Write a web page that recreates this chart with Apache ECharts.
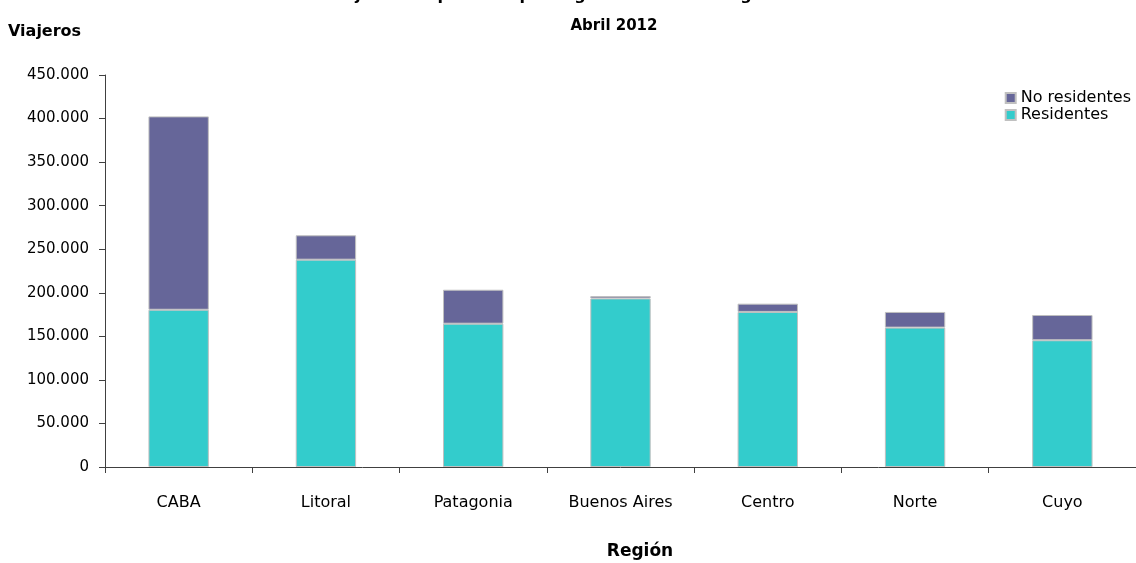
<!DOCTYPE html>
<html>
<head>
<meta charset="utf-8">
<script src="https://cdn.jsdelivr.net/npm/echarts@6/dist/echarts.min.js"></script>
<style>html,body{margin:0;padding:0;background:#fff}#c{width:1136px;height:563px}</style>
</head>
<body>
<div id="c"></div>
<script>
const categories = ['CABA', 'Litoral', 'Patagonia', 'Buenos Aires', 'Centro', 'Norte', 'Cuyo'];
const residentes = [180500, 238000, 164500, 193500, 178000, 160000, 145500];
const noResidentes = [222000, 28000, 39000, 2700, 9500, 18000, 29000];
const yTicks = [0, 50000, 100000, 150000, 200000, 250000, 300000, 350000, 400000, 450000];

const fmt = v => String(v).replace(/\B(?=(\d{3})+(?!\d))/g, '.');
const font = '"DejaVu Sans", Verdana, sans-serif';

const chart = echarts.init(document.getElementById('c'), null, {renderer: 'canvas'});
chart.setOption({
  animation: false,
  textStyle: {fontFamily: font},
  grid: {left: 105, right: 0, top: 75, bottom: 96, containLabel: false},
  legend: {
    orient: 'vertical', right: 0, top: 85, itemWidth: 10, itemHeight: 10, itemGap: 1,
    icon: 'rect',
    textStyle: {fontFamily: font, fontSize: 16, color: '#000'},
    data: ['No residentes', 'Residentes']
  },
  graphic: [
    {type: 'text', x: 600, y: 4, style: {text: 'Viajeros hospedados por región de destino según residencia', font: 'bold 16px ' + font, fill: '#000', textAlign: 'center', verticalAlign: 'bottom', textVerticalAlign: 'bottom'}},
    {type: 'text', x: 614, y: 19, style: {text: 'Abril 2012', font: 'bold 15px ' + font, fill: '#000', textAlign: 'center'}},
    {type: 'text', x: 8, y: 24, style: {text: 'Viajeros', font: 'bold 16px ' + font, fill: '#000'}},
    {type: 'text', x: 640, y: 543, style: {text: 'Región', font: 'bold 17px ' + font, fill: '#000', textAlign: 'center'}}
  ],
  xAxis: {
    type: 'category', data: categories,
    axisLine: {lineStyle: {color: '#404040', width: 1}},
    axisTick: {show: true, length: 6, lineStyle: {color: '#404040'}},
    axisLabel: {color: '#000', fontSize: 16, margin: 28, fontFamily: font}
  },
  yAxis: {
    type: 'value', min: 0, max: 450000, interval: 50000,
    axisLine: {show: true, lineStyle: {color: '#404040', width: 1}},
    axisTick: {show: true, length: 6, lineStyle: {color: '#404040'}},
    splitLine: {show: false},
    axisLabel: {color: '#000', fontSize: 15, margin: 16, fontFamily: font,
      formatter: v => yTicks.includes(v) ? fmt(v) : ''}
  },
  series: [
    {name: 'Residentes', type: 'bar', stack: 'total', data: residentes, barWidth: '41%',
      itemStyle: {color: '#33CCCC', borderColor: '#C0C0C0', borderWidth: 1}},
    {name: 'No residentes', type: 'bar', stack: 'total', data: noResidentes, barWidth: '41%',
      itemStyle: {color: '#666699', borderColor: '#C0C0C0', borderWidth: 1}}
  ]
});
</script>
</body>
</html>
